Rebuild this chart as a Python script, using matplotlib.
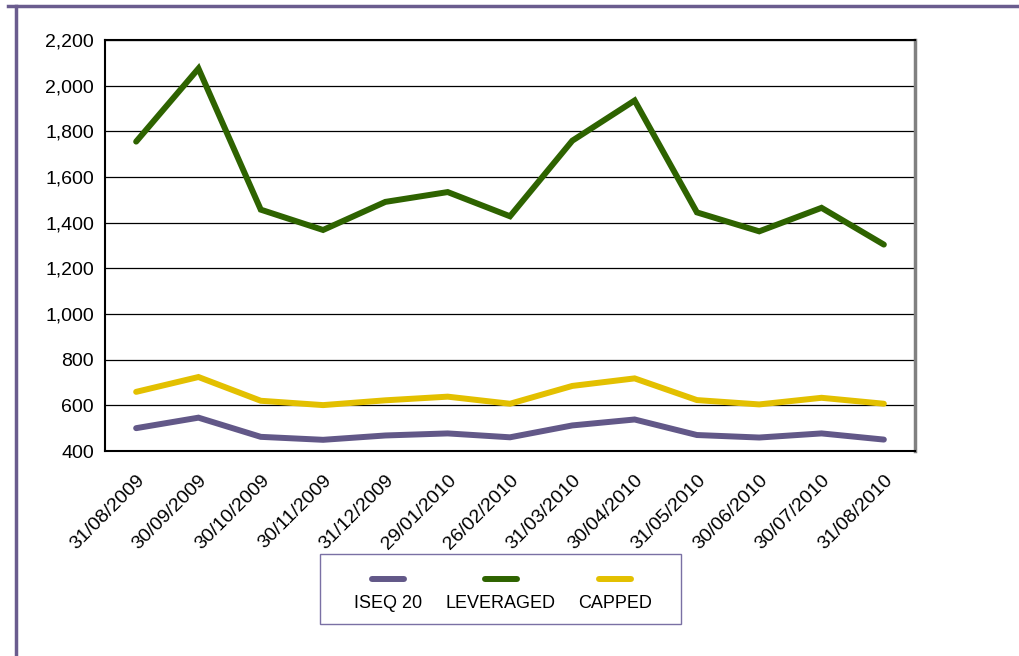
import matplotlib
matplotlib.use("Agg")
import matplotlib.pyplot as plt
from matplotlib.lines import Line2D
from matplotlib.patches import Rectangle
from matplotlib.ticker import FuncFormatter, MultipleLocator
import matplotlib.transforms as mtrans

plt.rcParams['font.family'] = ['Liberation Sans', 'DejaVu Sans']

dates = ["31/08/2009", "30/09/2009", "30/10/2009", "30/11/2009", "31/12/2009",
         "29/01/2010", "26/02/2010", "31/03/2010", "30/04/2010", "31/05/2010",
         "30/06/2010", "30/07/2010", "31/08/2010"]
iseq20 = [500, 546, 462, 449, 468, 477, 460, 512, 538, 470, 459, 477, 450]
leveraged = [1755, 2075, 1457, 1368, 1491, 1534, 1428, 1759, 1935, 1445, 1362, 1465, 1304]
capped = [659, 724, 620, 601, 622, 638, 607, 685, 718, 623, 604, 633, 607]

series_names = ["ISEQ 20", "LEVERAGED", "CAPPED"]
colors = ["#625888", "#2e6300", "#e3c000"]

W, H = 1020, 656
fig = plt.figure(figsize=(W / 100, H / 100), dpi=100)
ax = fig.add_axes([105 / W, 1 - 451 / H, (915 - 105) / W, (451 - 40) / H])

x = list(range(len(dates)))
for vals, c in zip([iseq20, leveraged, capped], colors):
    ax.plot(x, vals, color=c, lw=4.3, solid_capstyle='round', solid_joinstyle='miter', zorder=3)

ax.set_xlim(-0.5, len(dates) - 0.5)
ax.set_ylim(400, 2200)
ax.yaxis.set_major_locator(MultipleLocator(200))
ax.yaxis.set_major_formatter(FuncFormatter(lambda v, p: f"{int(v):,}"))
ax.grid(axis='y', color='black', lw=0.9, zorder=1)
ax.tick_params(axis='both', length=0, labelsize=14, colors='black')
ax.tick_params(axis='y', pad=8)
ax.set_xticks(x)
ax.set_xticklabels([])

# rotated date labels, anchored by their top-right corner
offset = mtrans.ScaledTranslation(12 / 100, -21 / 100, fig.dpi_scale_trans)
for xi, d in zip(x, dates):
    ax.text(xi, 0, d, rotation=45, ha='right', va='top', fontsize=14, color='black',
            transform=ax.get_xaxis_transform() + offset, clip_on=False)

for s in ['left', 'bottom', 'top']:
    ax.spines[s].set_color('black')
    ax.spines[s].set_linewidth(1.5)
ax.spines['right'].set_color('#808080')
ax.spines['right'].set_linewidth(2.5)

# outer purple frame
frame_c = '#6a5c8e'
fig.add_artist(Line2D([8 / W, 1], [1 - 5.5 / H, 1 - 5.5 / H], color=frame_c, lw=2.5,
                      transform=fig.transFigure))
fig.add_artist(Line2D([16 / W, 16 / W], [0, 1 - 5.5 / H], color=frame_c, lw=2.5,
                      transform=fig.transFigure))

# legend box
lx0, ly0, lx1, ly1 = 320, 554, 681, 624
fig.add_artist(Rectangle((lx0 / W, 1 - ly1 / H), (lx1 - lx0) / W, (ly1 - ly0) / H,
                         transform=fig.transFigure, fill=False, edgecolor='#7a70a4', lw=1.0))
centers = [388, 501, 615]
for name, c, cx in zip(series_names, colors, centers):
    fig.add_artist(Line2D([(cx - 16) / W, (cx + 16) / W], [1 - 579 / H, 1 - 579 / H],
                          color=c, lw=4.3, solid_capstyle='round', transform=fig.transFigure))
    fig.text(cx / W, 1 - 603 / H, name, ha='center', va='center', fontsize=13, color='black')

fig.savefig("out.png", dpi=100)
